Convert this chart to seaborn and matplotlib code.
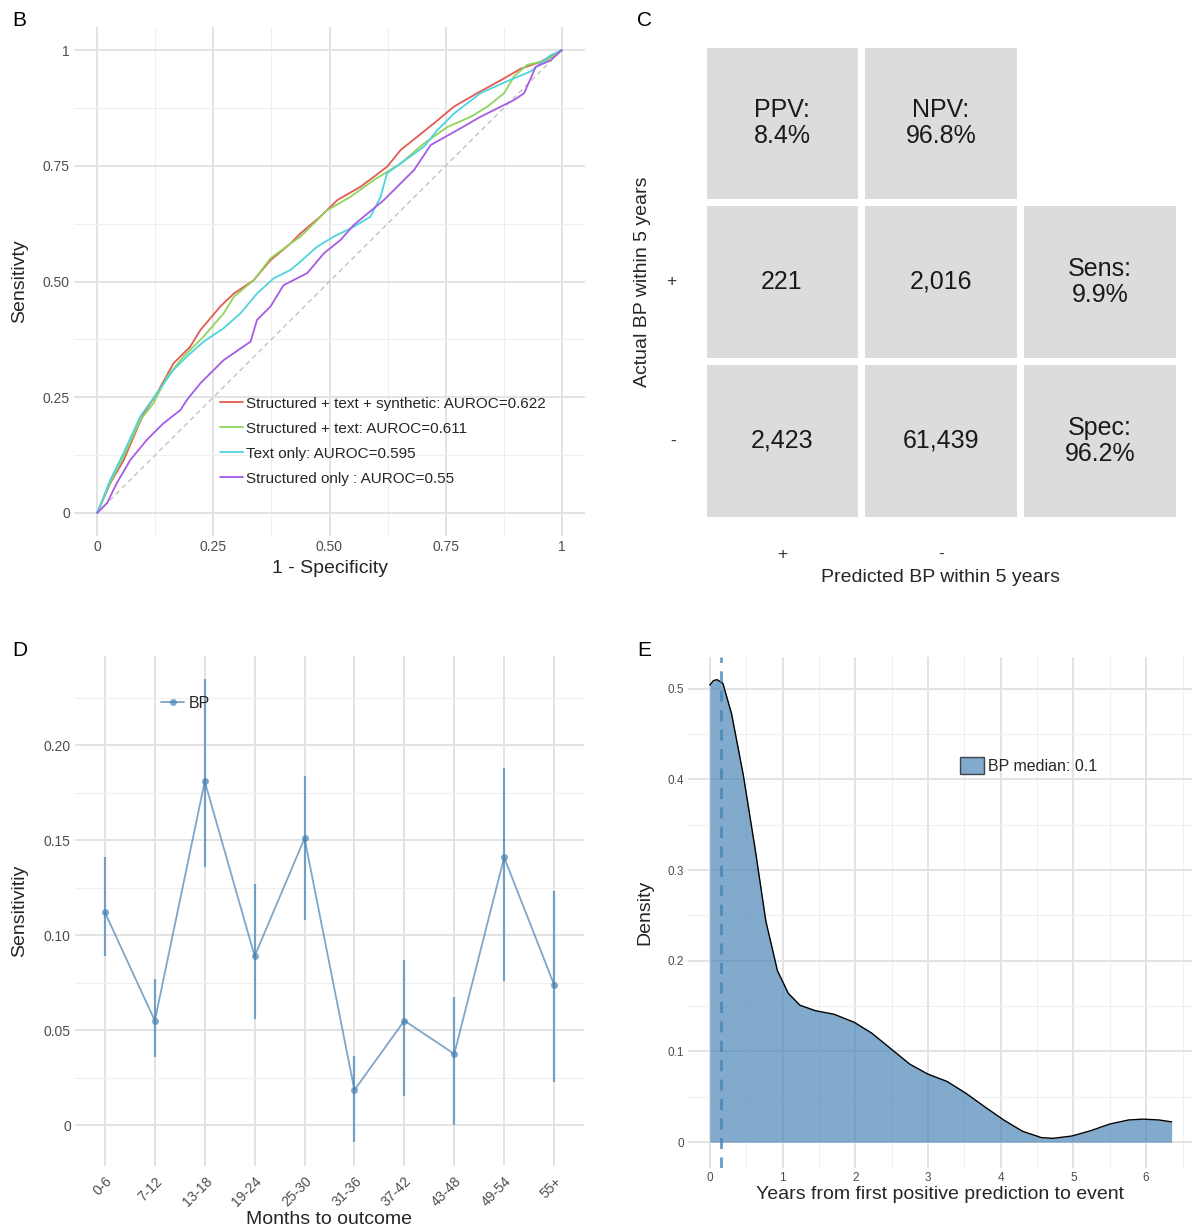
import numpy as np
import pandas as pd
import seaborn as sns
import matplotlib.pyplot as plt
from matplotlib.colors import ListedColormap
from matplotlib.ticker import MultipleLocator
from matplotlib.patches import Patch

# ---------------- B: ROC curves ----------------
roc_labels = ["Structured + text + synthetic: AUROC=0.622",
              "Structured + text: AUROC=0.611",
              "Text only: AUROC=0.595",
              "Structured only : AUROC=0.55"]
roc_colors = ["#E35A52", "#8FD45C", "#4FD3DE", "#A55BE4"]

fpr_synth = [0, 0.028, 0.057, 0.10, 0.129, 0.164, 0.20, 0.222, 0.265, 0.294, 0.337, 0.373, 0.416,
             0.4375, 0.48, 0.517, 0.567, 0.595, 0.624, 0.653, 0.689, 0.725, 0.768, 0.818, 0.869,
             0.912, 0.955, 1.0]
tpr_synth = [0, 0.064, 0.114, 0.215, 0.259, 0.323, 0.359, 0.395, 0.446, 0.474, 0.503, 0.546, 0.582,
             0.604, 0.640, 0.676, 0.705, 0.726, 0.748, 0.784, 0.813, 0.842, 0.878, 0.907, 0.935,
             0.960, 0.975, 1.0]

fpr_text_struct = [0, 0.028, 0.057, 0.093, 0.121, 0.15, 0.186, 0.229, 0.272, 0.294, 0.337, 0.373,
                   0.416, 0.4375, 0.495, 0.545, 0.595, 0.653, 0.703, 0.754, 0.804, 0.84, 0.876,
                   0.897, 0.925, 0.968, 1.0]
tpr_text_struct = [0, 0.066, 0.122, 0.201, 0.237, 0.294, 0.338, 0.381, 0.431, 0.467, 0.503, 0.55,
                   0.582, 0.597, 0.654, 0.683, 0.719, 0.755, 0.798, 0.834, 0.856, 0.878, 0.907,
                   0.943, 0.968, 0.978, 1.0]

fpr_text = [0, 0.028, 0.057, 0.093, 0.129, 0.164, 0.193, 0.229, 0.272, 0.308, 0.344, 0.38, 0.416,
            0.4375, 0.473, 0.509, 0.552, 0.588, 0.61, 0.624, 0.653, 0.703, 0.732, 0.768, 0.825,
            0.883, 0.933, 0.976, 1.0]
tpr_text = [0, 0.071, 0.13, 0.209, 0.259, 0.309, 0.338, 0.37, 0.399, 0.431, 0.474, 0.507, 0.525,
            0.543, 0.575, 0.597, 0.618, 0.64, 0.683, 0.734, 0.755, 0.791, 0.827, 0.863, 0.907,
            0.933, 0.954, 0.989, 1.0]

fpr_struct = [0, 0.021, 0.042, 0.071, 0.107, 0.143, 0.179, 0.193, 0.222, 0.272, 0.33, 0.344, 0.373,
              0.401, 0.452, 0.488, 0.524, 0.552, 0.617, 0.682, 0.718, 0.782, 0.825, 0.897, 0.919,
              0.944, 0.976, 1.0]
tpr_struct = [0, 0.021, 0.064, 0.114, 0.158, 0.194, 0.222, 0.244, 0.28, 0.33, 0.37, 0.417, 0.446,
              0.492, 0.518, 0.561, 0.59, 0.622, 0.676, 0.741, 0.795, 0.831, 0.856, 0.892, 0.907,
              0.964, 0.978, 1.0]

roc_ticks = [0, 0.25, 0.5, 0.75, 1]
roc_ticklabels = ["0", "0.25", "0.50", "0.75", "1"]

# ---------------- C: confusion matrix ----------------
tp, fn, fp, tn = 221, 2016, 2423, 61439

# ---------------- D: sensitivity by months ----------------
months = ["0-6", "7-12", "13-18", "19-24", "25-30", "31-36", "37-42", "43-48", "49-54", "55+"]
sens_bp = [0.112, 0.055, 0.181, 0.089, 0.151, 0.0185, 0.055, 0.0375, 0.141, 0.074]
sens_lo = [0.089, 0.036, 0.136, 0.056, 0.108, -0.009, 0.0155, 0.0, 0.076, 0.0225]
sens_hi = [0.141, 0.077, 0.235, 0.127, 0.184, 0.0365, 0.087, 0.0675, 0.188, 0.1235]

# ---------------- E: density of years ----------------
years = [0, 0.05, 0.1, 0.18, 0.3, 0.46, 0.62, 0.77, 0.93, 1.08, 1.24, 1.45, 1.71, 1.99, 2.23,
         2.49, 2.75, 3.0, 3.26, 3.52, 3.78, 4.04, 4.3, 4.56, 4.72, 4.98, 5.24, 5.5, 5.76, 5.96,
         6.17, 6.35]
dens = [0.504, 0.509, 0.51, 0.506, 0.472, 0.405, 0.325, 0.244, 0.189, 0.164, 0.151, 0.145,
        0.141, 0.132, 0.12, 0.103, 0.086, 0.075, 0.067, 0.054, 0.039, 0.0245, 0.012, 0.005,
        0.0042, 0.0068, 0.0127, 0.020, 0.0245, 0.0254, 0.0245, 0.0224]
median_years = 0.15

# ---------------- figure ----------------
sns.set_theme(style="white")
plt.rcParams["font.family"] = ["Liberation Sans", "DejaVu Sans"]

W, H = 1192, 1230
fig = plt.figure(figsize=(W / 100, H / 100), dpi=100)


def px_axes(left, top, right, bottom):
    return fig.add_axes([left / W, 1 - bottom / H, (right - left) / W, (bottom - top) / H])


def minimal(ax, xmaj, xmin, ymaj, ymin, size=10):
    ax.xaxis.set_major_locator(MultipleLocator(xmaj))
    ax.xaxis.set_minor_locator(MultipleLocator(xmin))
    ax.yaxis.set_major_locator(MultipleLocator(ymaj))
    ax.yaxis.set_minor_locator(MultipleLocator(ymin))
    ax.grid(which="major", color="#E3E3E3", lw=1.4)
    ax.grid(which="minor", color="#EFEFEF", lw=0.8)
    ax.tick_params(which="both", length=0, labelsize=size, labelcolor="#4D4D4D", pad=3)
    for s in ax.spines.values():
        s.set_visible(False)
    ax.set_axisbelow(True)


steel = "#4682B4"

# ---- B
axB = px_axes(74, 27, 585, 536)
roc_df = pd.concat([
    pd.DataFrame({"fpr": f, "tpr": t, "model": lab})
    for f, t, lab in zip([fpr_synth, fpr_text_struct, fpr_text, fpr_struct],
                         [tpr_synth, tpr_text_struct, tpr_text, tpr_struct], roc_labels)
])
axB.plot([0, 1], [0, 1], ls=(0, (4, 3)), color="#BDBDBD", lw=0.9)
sns.lineplot(data=roc_df, x="fpr", y="tpr", hue="model", palette=roc_colors,
             estimator=None, sort=False, lw=1.3, ax=axB)
axB.set_xlim(-0.05, 1.05)
axB.set_ylim(-0.05, 1.05)
minimal(axB, 0.25, 0.125, 0.25, 0.125)
axB.set_xticks(roc_ticks, roc_ticklabels)
axB.set_yticks(roc_ticks, roc_ticklabels)
axB.set_xlabel("1 - Specificity", fontsize=14, va="center")
axB.xaxis.set_label_coords(0.5, -0.063)
axB.set_ylabel("Sensitivty", fontsize=14, va="center")
axB.yaxis.set_label_coords(-0.106, 0.5)
axB.legend(loc="upper left", bbox_to_anchor=(0.27, 0.289), frameon=False, fontsize=11,
           handlelength=1.5, handletextpad=0.25, labelspacing=0.72, borderpad=0, title=None)

# ---- C
axC = px_axes(702.5, 43.5, 1179.5, 520.5)
ppv = 100 * tp / (tp + fp)
npv = 100 * tn / (tn + fn)
sens = 100 * tp / (tp + fn)
spec = 100 * tn / (tn + fp)
cell_text = np.array([
    [f"PPV:\n{ppv:.1f}%", f"NPV:\n{npv:.1f}%", ""],
    [f"{tp:,}", f"{fn:,}", f"Sens:\n{sens:.1f}%"],
    [f"{fp:,}", f"{tn:,}", f"Spec:\n{spec:.1f}%"],
])
mask = np.array([[False, False, True], [False, False, False], [False, False, False]])
sns.heatmap(np.zeros((3, 3)), mask=mask, cmap=ListedColormap(["#DCDCDC"]), cbar=False,
            annot=cell_text, fmt="", linewidths=5, linecolor="white", ax=axC,
            annot_kws={"fontsize": 18, "color": "#1A1A1A", "linespacing": 1.12})
axC.set_xticks([0.5, 1.5, 2.5], ["+", "-", ""])
axC.set_yticks([0.5, 1.5, 2.5], ["", "+", "-"], rotation=0)
axC.tick_params(length=0, labelsize=12.5, labelcolor="#333333", pad=19)
axC.set_xlabel("Predicted BP within 5 years", fontsize=14, va="center")
axC.xaxis.set_label_coords(0.5, -0.12)
axC.set_ylabel("Actual BP within 5 years", fontsize=14, va="center")
axC.yaxis.set_label_coords(-0.125, 0.5)

# ---- D
axD = px_axes(75, 656, 584, 1166)
pos = np.arange(len(months))
axD.vlines(pos, sens_lo, sens_hi, color=steel, alpha=0.7, lw=1.6)
d_df = pd.DataFrame({"months": months, "sens": sens_bp})
sns.lineplot(data=d_df, x="months", y="sens", color=steel, alpha=0.7, marker="o",
             markersize=5, markeredgewidth=0, lw=1.3, sort=False, label="BP", ax=axD)
axD.set_xlim(-0.6, len(months) - 0.4)
axD.set_ylim(-0.0215, 0.247)
minimal(axD, 1, 1, 0.05, 0.025)
axD.set_xticks(pos, months)
axD.set_yticks([0, 0.05, 0.10, 0.15, 0.20], ["0", "0.05", "0.10", "0.15", "0.20"])
plt.setp(axD.get_xticklabels(), rotation=45, ha="right", va="top", rotation_mode="anchor")
axD.tick_params(axis="x", pad=6)
axD.set_xlabel("Months to outcome", fontsize=14, va="center")
axD.xaxis.set_label_coords(0.5, -0.104)
axD.set_ylabel("Sensitivitiy", fontsize=14, va="center")
axD.yaxis.set_label_coords(-0.108, 0.5)
axD.legend(loc="center left", bbox_to_anchor=(0.154, 0.907), frameon=False, fontsize=11.5,
           handlelength=1.4, handletextpad=0.3, borderpad=0)

# ---- E
axE = px_axes(688, 657, 1192, 1168)
axE.fill_between(years, 0, dens, color=steel, alpha=0.68, lw=0)
e_df = pd.DataFrame({"years": years, "density": dens})
sns.lineplot(data=e_df, x="years", y="density", color="black", lw=1.0, ax=axE)
axE.axvline(median_years, color=steel, alpha=0.8, lw=2, ls=(0, (4, 3)))
axE.set_xlim(-0.30, 6.63)
axE.set_ylim(-0.0285, 0.535)
minimal(axE, 1, 0.5, 0.1, 0.05, size=8.5)
axE.set_xticks(range(7), [str(i) for i in range(7)])
axE.set_yticks([0, 0.1, 0.2, 0.3, 0.4, 0.5], ["0", "0.1", "0.2", "0.3", "0.4", "0.5"])
axE.set_xlabel("Years from first positive prediction to event", fontsize=14, va="center")
axE.xaxis.set_label_coords(0.5, -0.051)
axE.set_ylabel("Density", fontsize=14, va="center")
axE.yaxis.set_label_coords(-0.085, 0.5)
axE.legend(handles=[Patch(facecolor=steel, alpha=0.68, edgecolor="black", lw=1)],
           labels=[f"BP median: {round(median_years, 1)}"], loc="upper left",
           bbox_to_anchor=(0.524, 0.82), frameon=False, fontsize=11.5, handlelength=1.5,
           handleheight=1.3, handletextpad=0.25, borderpad=0)

# panel letters
for letter, x, y in [("B", 12, 20), ("C", 637, 20), ("D", 12, 650), ("E", 637, 650)]:
    fig.text(x / W, 1 - y / H, letter, fontsize=15, va="center", ha="left", color="black")

fig.savefig("out.png", dpi=100)
